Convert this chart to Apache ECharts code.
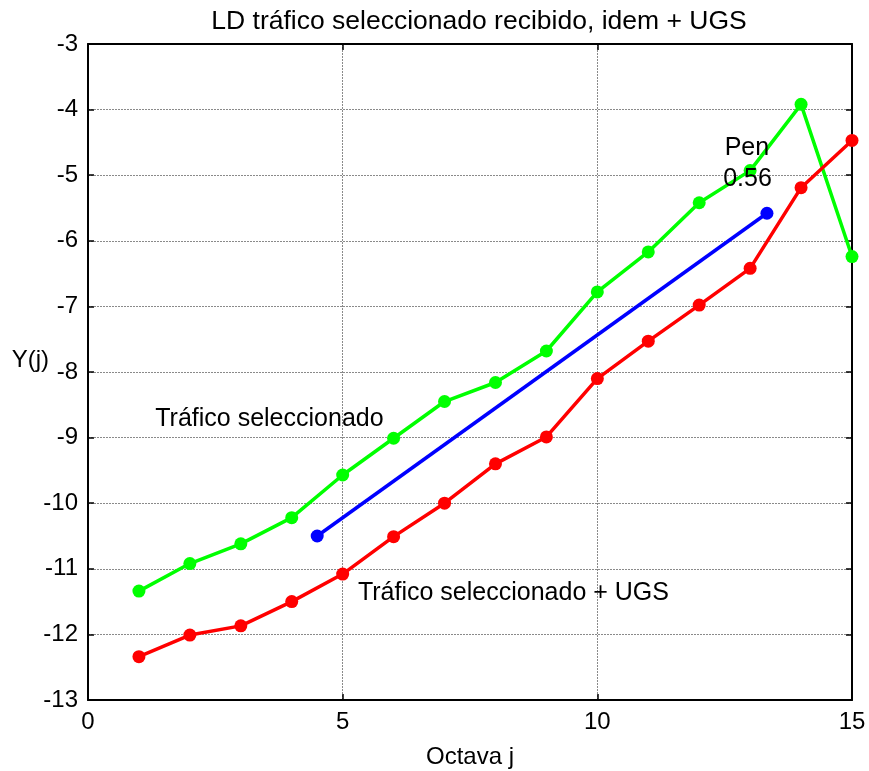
<!DOCTYPE html>
<html>
<head>
<meta charset="utf-8">
<script src="https://cdn.jsdelivr.net/npm/echarts@6/dist/echarts.min.js"></script>
<style>
  html, body { margin: 0; background: #fff; }
  #chart { width: 869px; height: 771px; }
</style>
</head>
<body>
<div id="chart"></div>
<script>
// octave index j
const octaves = [1, 2, 3, 4, 5, 6, 7, 8, 9, 10, 11, 12, 13, 14, 15]
// selected traffic (green)
const traficoSel = [-11.34, -10.92, -10.62, -10.22, -9.57, -9.01, -8.45, -8.16, -7.68, -6.78, -6.17, -5.42, -4.93, -3.92, -6.24]
// selected traffic + UGS (red)
const traficoUgs = [-12.34, -12.01, -11.87, -11.5, -11.08, -10.51, -10.0, -9.4, -8.99, -8.1, -7.53, -6.98, -6.42, -5.19, -4.47]
// fitted line endpoints (blue)
const fitX = [4.5, 13.33]
const fitY = [-10.5, -5.58]
// text annotations [x, y, text]
const notes = [
  [1.32, -8.72, 'Tráfico seleccionado'],
  [5.3, -11.37, 'Tráfico seleccionado + UGS'],
  [12.5, -4.59, 'Pen'],
  [12.47, -5.06, '0.56'],
]

const font = 'Arial, "Liberation Sans", sans-serif'
const zip = (xs, ys) => xs.map((x, i) => [x, ys[i]])

const chart = echarts.init(document.getElementById('chart'))

const lineSeries = (data, color) => ({
  type: 'line',
  data,
  symbol: 'circle',
  symbolSize: 13,
  itemStyle: { color },
  lineStyle: { color, width: 3.5 },
  z: 3,
})

const gridLine = { show: true, lineStyle: { color: '#8a8a8a', width: 1, type: [2, 1] } }
const frame = { show: true, onZero: false, lineStyle: { color: '#000', width: 2 } }
const tick = { show: true, inside: true, length: 6, lineStyle: { color: '#000', width: 1.5 } }

chart.setOption({
  animation: false,
  title: {
    text: 'LD tráfico seleccionado recibido, idem + UGS',
    left: 474,
    top: 3,
    textAlign: 'center',
    textStyle: { fontFamily: font, fontSize: 26.5, fontWeight: 'normal', color: '#000' },
  },
  grid: { left: 88, right: 17, top: 44, bottom: 71, containLabel: false, outerBoundsMode: 'none' },
  xAxis: [{
    type: 'value', min: 0, max: 15, interval: 5, position: 'bottom',
    axisLine: frame, axisTick: tick, splitLine: gridLine,
    axisLabel: { color: '#000', fontFamily: font, fontSize: 24, margin: 10 },
    name: 'Octava j', nameLocation: 'middle', nameGap: 45, nameMoveOverlap: false,
    nameTextStyle: { color: '#000', fontFamily: font, fontSize: 24 },
  }, {
    type: 'value', min: 0, max: 15, interval: 5, position: 'top',
    axisLine: frame, axisTick: tick, splitLine: { show: false }, axisLabel: { show: false },
  }],
  yAxis: [{
    type: 'value', min: -13, max: -3, interval: 1, position: 'left',
    axisLine: frame, axisTick: tick, splitLine: gridLine,
    axisLabel: { color: '#000', fontFamily: font, fontSize: 24, margin: 10 },
    name: 'Y(j)', nameLocation: 'middle', nameGap: 39, nameRotate: 0, nameMoveOverlap: false,
    nameTextStyle: { color: '#000', fontFamily: font, fontSize: 24, verticalAlign: 'bottom' },
  }, {
    type: 'value', min: -13, max: -3, interval: 1, position: 'right',
    axisLine: frame, axisTick: tick, splitLine: { show: false }, axisLabel: { show: false },
  }],
  series: [
    lineSeries(zip(octaves, traficoSel), '#00ff00'),
    lineSeries(zip(octaves, traficoUgs), '#ff0000'),
    lineSeries(zip(fitX, fitY), '#0000ff'),
    {
      type: 'scatter',
      data: notes,
      symbolSize: 0,
      silent: true,
      z: 5,
      itemStyle: { opacity: 1 },
      label: {
        show: true, position: 'right', distance: 0,
        formatter: (p) => p.data[2],
        color: '#000', fontFamily: font, fontSize: 25,
      },
    },
  ],
})
</script>
</body>
</html>
